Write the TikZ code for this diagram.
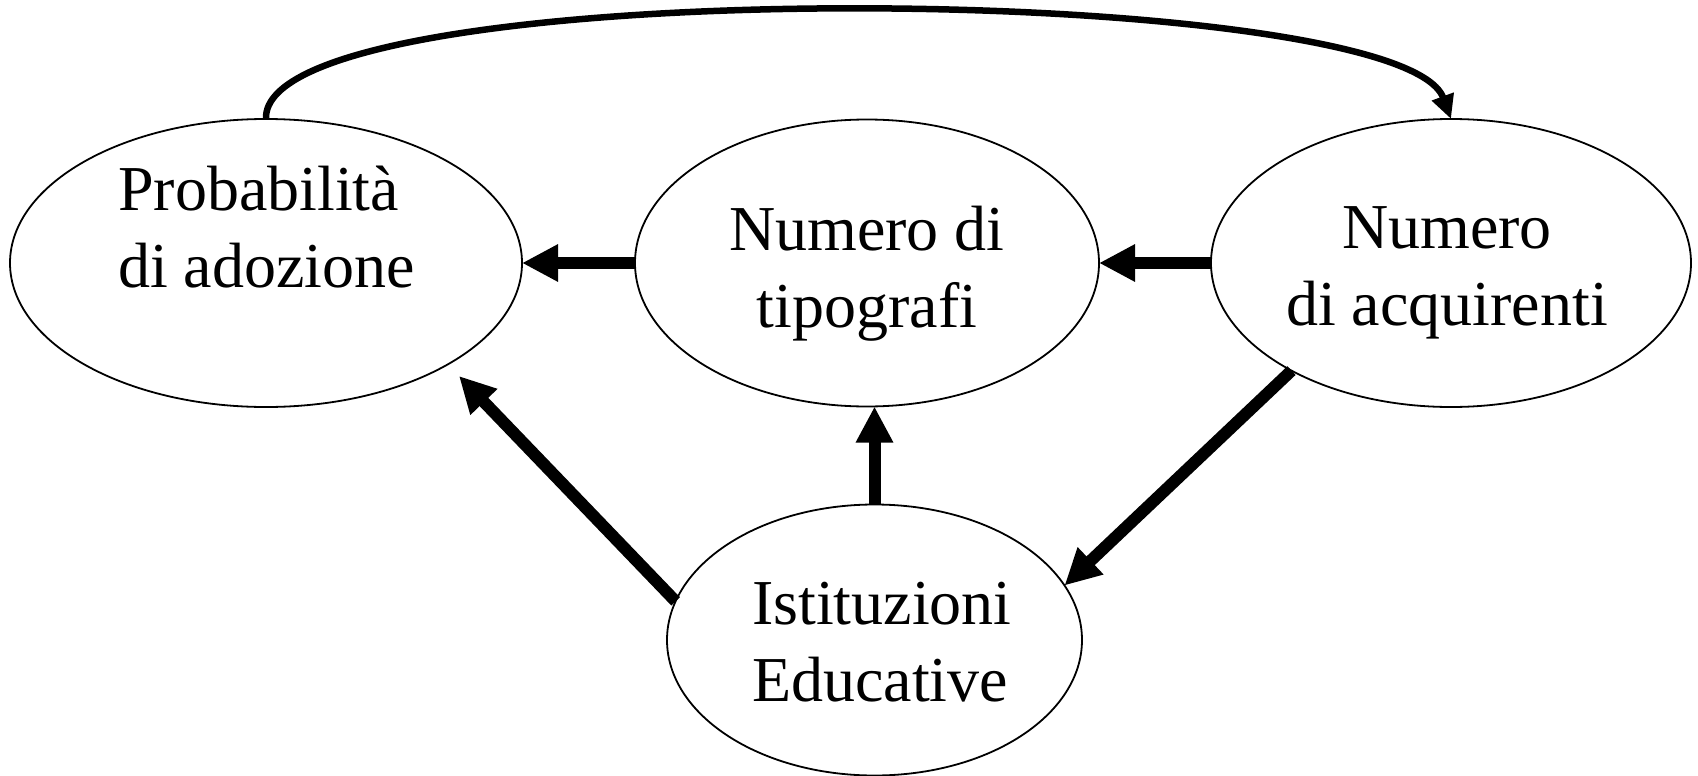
\documentclass[tikz,border=0pt]{standalone}
\usepackage{fontspec}
\setmainfont{Liberation Serif}
\usetikzlibrary{shapes.geometric,arrows.meta}
\begin{document}
\begin{tikzpicture}[x=1pt,y=-1pt,
  ell/.style={draw, ellipse, line width=1.8pt, inner sep=0pt, outer sep=0pt},
  lbl/.style={font=\fontsize{64}{77}\selectfont, inner sep=0pt, anchor=base},
  bigarrow/.style={line width=12pt, -{Triangle[length=36pt,width=35pt]}},
  curvearrow/.style={line width=6.5pt, -{Triangle[length=24pt,width=22pt]}}]
\useasboundingbox (0,0) rectangle (1698,776);
\node[ell, minimum width=512pt, minimum height=288pt] (prob) at (266,263) {};
\node[ell, minimum width=464pt, minimum height=287pt] (tip) at (867,263) {};
\node[ell, minimum width=480pt, minimum height=288pt] (acq) at (1451,263) {};
\node[ell, minimum width=415pt, minimum height=271pt] (ist) at (874.5,640) {};
\node[lbl, align=left, anchor=base west] (tprob) at (118,287) {Probabilità\\di adozione};
\node[lbl, align=center] (ttip) at (867,327) {Numero di\\tipografi};
\node[lbl, align=center] (tacq) at (1447,325) {Numero\\di acquirenti};
\node[lbl, align=left, anchor=base west] (tist) at (752,701) {Istituzioni\\Educative};
\coordinate (tipL) at (459,376);
\draw[bigarrow] (tip.west) -- (prob.east);
\draw[bigarrow] (acq.west) -- (tip.east);
\draw[bigarrow] (ist.north) -- (ist.north |- tip.south);
\draw[bigarrow] (ist.169) -- (tipL);
\draw[bigarrow] (acq.214) -- (ist.16);
\draw[curvearrow] (prob.north) .. controls (260,-30) and (1400,-20) .. (acq.north);
\end{tikzpicture}
\end{document}
